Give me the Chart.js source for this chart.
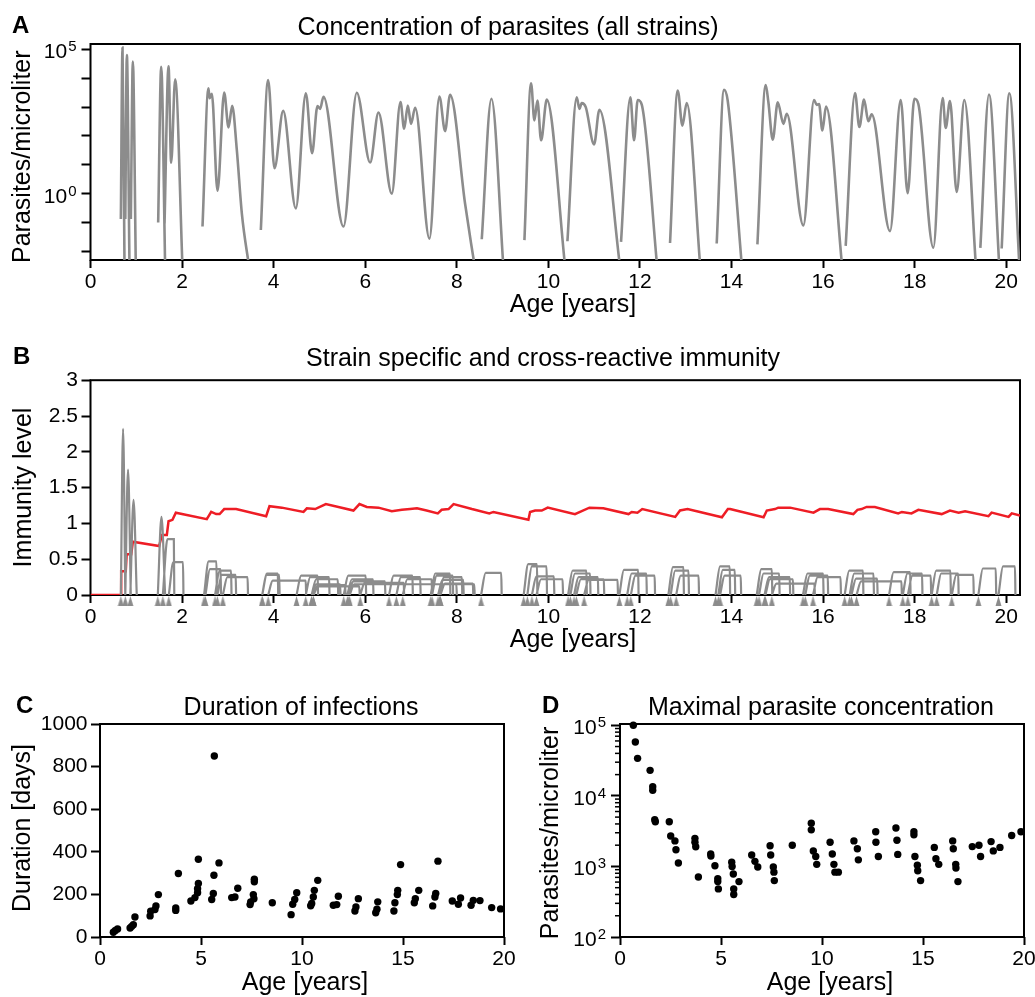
<!DOCTYPE html>
<html>
<head>
<meta charset="utf-8">
<script src="https://cdn.jsdelivr.net/npm/chart.js@4.4.1/dist/chart.umd.min.js"></script>
<style>
html, body { margin: 0; padding: 0; background: #fff; }
#wrap { position: relative; width: 1035px; height: 997px; }
#wrap canvas { position: absolute; left: 0; top: 0; }
</style>
</head>
<body>
<div id="wrap">
  <canvas id="cA" width="1035" height="997"></canvas>
  <canvas id="cB" width="1035" height="997"></canvas>
  <canvas id="cC" width="1035" height="997"></canvas>
  <canvas id="cD" width="1035" height="997"></canvas>
</div>
<script>
// --- A: total parasite concentration, log10 values, null = line break ---
const ageA = [
  0.663, 0.699, 0.743, null,
  0.76, 0.794, 0.852, null,
  0.881, 0.925, 0.99, null,
  1.478, 1.544, 1.631, null,
  1.617, 1.704, 1.762, 1.849, 2.01, null,
  2.446, 2.577, 2.599, 2.65, 2.774, 2.92, 3.014, 3.094, 3.196, 3.305, 3.47, null,
  3.72, 3.88, 4.018, 4.208, 4.484, 4.703, 4.84, 4.957, 5.015, 5.088, 5.525, 5.816, 6.107, 6.289, 6.58, 6.77,
  6.85, 6.93, 7.0, 7.09, 7.402, 7.62, 7.744, 7.853, 8.181, 8.312, 8.40, null,
  8.545, 8.756, 9.02, null,
  9.477, 9.622, 9.695, 9.761, 9.841, 9.965, 10.37, null,
  10.416, 10.619, 10.678, 10.728, 10.816, 10.998, 11.114, 11.57, null,
  11.587, 11.791, 11.871, 11.951, 12.039, 12.38, null,
  12.657, 12.825, 12.927, 13.021, 13.32, null,
  13.676, 13.836, 13.916, 14.23, null,
  14.565, 14.747, 14.805, 14.9, 15.009, 15.133, 15.205, 15.569, 15.802, 15.86, 15.911, 15.984, 16.064, 16.42, null,
  16.493, 16.697, 16.792, 16.894, 16.988, 17.061, 17.461, 17.694, 17.847, 17.993, 18.08, 18.408, 18.611, 18.677,
  18.771, 18.917, 19.084, 19.34, null,
  19.434, 19.623, 19.85, null,
  19.9, 20.067, 20.29
];
const logConcA = [
  -0.88, 5.07, -2.6, null,
  -0.88, 4.81, -2.6, null,
  -0.88, 4.58, -2.6, null,
  -1.0, 4.40, -2.6, null,
  -1.03, 4.42, 1.07, 3.97, -2.6, null,
  -1.14, 3.65, 3.31, 3.46, 0.1, 3.51, 2.30, 3.05, 1.51, -0.68, -2.6, null,
  -1.26, 3.94, 0.88, 2.87, -0.51, 3.48, 1.40, 3.04, 2.94, 3.36, -1.14, 3.5, 1.08, 2.81, 0.0, 3.18,
  2.25, 3.06, 2.42, 2.98, -1.56, 3.37, 2.17, 3.43, -0.35, -1.73, -2.6, null,
  -1.58, 3.29, -2.6, null,
  -1.61, 3.83, 2.54, 3.23, 1.85, 3.26, -2.6, null,
  -1.65, 3.34, 2.94, 3.14, 3.0, 1.71, 2.91, -2.6, null,
  -1.67, 3.34, 1.85, 3.25, 3.09, -2.6, null,
  -1.71, 3.58, 2.36, 3.14, -2.6, null,
  -1.73, 3.60, 3.23, -2.6, null,
  -1.76, 3.77, 3.17, 1.87, 3.17, 2.42, 2.77, -1.10, 3.25, 3.08, 3.11, 2.19, 3.02, -2.6, null,
  -1.81, 3.49, 2.31, 3.26, 2.51, 2.75, -1.30, 3.25, 0.02, 3.29, 3.11, -1.87, 3.32, 2.28,
  3.21, 0.06, 3.25, -2.6, null,
  -1.88, 3.44, -2.6, null,
  -1.90, 3.48, -2.6
];

// --- B: strain specific immunity (start age, end age, plateau level) ---
const strainStart = [0.663, 0.76, 0.87, 1.47, 1.58, 1.71,
  2.48, 2.51, 2.72, 2.77, 2.89, 3.75, 3.75, 3.88,
  4.50, 4.70, 4.83, 4.83, 4.87, 4.87, 5.53, 5.61, 5.64, 5.66, 5.89,
  6.52, 6.68, 6.82, 7.43, 7.46, 7.59, 7.62, 7.64, 7.64, 8.53,
  9.46, 9.54, 9.64, 9.74, 10.43, 10.48, 10.56, 10.61, 10.78,
  11.55, 11.72, 11.80, 12.62, 12.67, 12.79, 13.65, 13.71, 13.75,
  14.55, 14.60, 14.72, 14.74, 14.88, 15.56, 15.61, 15.78,
  16.47, 16.58, 16.62, 16.73, 17.44, 17.74, 17.85, 18.37, 18.48, 18.81, 19.39, 19.83];
const strainEnd = [0.76, 0.88, 1.01, 1.63, 1.82, 2.02,
  2.75, 2.84, 3.07, 3.17, 3.43, 4.09, 4.12, 4.70,
  4.96, 5.21, 5.40, 5.45, 5.56, 5.87, 6.01, 6.17, 6.43, 7.99, 6.84,
  7.03, 7.20, 7.45, 7.85, 7.91, 8.14, 8.11, 8.35, 8.38, 8.97,
  9.75, 9.96, 10.12, 10.31, 10.83, 10.91, 11.08, 11.21, 11.51,
  11.96, 12.14, 12.32, 12.95, 13.06, 13.28, 13.96, 14.07, 14.20,
  14.88, 15.04, 15.27, 15.34, 15.81, 16.00, 16.10, 16.38,
  16.87, 17.10, 17.18, 17.71, 17.90, 18.16, 18.35, 18.78, 18.95, 19.28, 19.77, 20.19];
const strainLevel = [2.32, 1.75, 1.33, 1.09, 0.78, 0.46,
  0.47, 0.36, 0.34, 0.28, 0.25, 0.30, 0.28, 0.20,
  0.27, 0.25, 0.22, 0.15, 0.14, 0.12, 0.27, 0.22, 0.19, 0.15, 0.17,
  0.27, 0.25, 0.22, 0.30, 0.27, 0.21, 0.25, 0.16, 0.15, 0.31,
  0.43, 0.40, 0.26, 0.22, 0.34, 0.30, 0.25, 0.22, 0.21,
  0.35, 0.30, 0.27, 0.39, 0.34, 0.27, 0.40, 0.35, 0.27,
  0.36, 0.30, 0.25, 0.22, 0.16, 0.30, 0.27, 0.25,
  0.34, 0.30, 0.23, 0.19, 0.32, 0.30, 0.27, 0.34, 0.30, 0.28, 0.37, 0.40];

// cross-reactive immunity (red)
const ageRed = [0, 0.67, 0.67, 0.77, 0.79, 0.89, 0.925, 1.50, 1.558, 1.667, 1.704, 1.79, 1.864,
  2.54, 2.636, 2.745, 2.82, 2.92, 3.18, 3.836, 3.909, 4.178, 4.652, 4.725, 4.907, 5.14,
  5.743, 5.874, 6.034, 6.289, 6.58, 6.80, 6.98, 7.13, 7.34, 7.585, 7.67, 7.82, 7.93,
  8.33, 8.71, 8.80, 9.564, 9.60, 9.71, 9.855, 9.986, 10.58, 10.896, 11.2, 11.75, 11.82,
  11.945, 12.05, 12.77, 12.875, 13.04, 13.79, 13.92, 13.97, 14.7, 14.77, 14.95, 15.02,
  15.28, 15.79, 15.93, 16.11, 16.66, 16.75, 16.84, 16.95, 17.13, 17.64, 17.72, 17.93,
  18.08, 18.59, 18.77, 18.96, 19.10, 19.61, 19.68, 20.05, 20.12, 20.30];
const levelRed = [0, 0, 0.33, 0.33, 0.57, 0.57, 0.745, 0.684, 0.838, 0.838, 1.03, 1.05, 1.15,
  1.06, 1.16, 1.13, 1.13, 1.2, 1.2, 1.10, 1.24, 1.22, 1.16, 1.21, 1.2, 1.27,
  1.18, 1.27, 1.23, 1.22, 1.17, 1.19, 1.2, 1.21, 1.18, 1.14, 1.19, 1.2, 1.27,
  1.2, 1.14, 1.16, 1.05, 1.16, 1.18, 1.18, 1.22, 1.13, 1.22, 1.21, 1.13, 1.16,
  1.15, 1.2, 1.09, 1.18, 1.2, 1.085, 1.2, 1.2, 1.085, 1.18, 1.2, 1.22,
  1.22, 1.15, 1.2, 1.2, 1.13, 1.19, 1.2, 1.23, 1.23, 1.14, 1.16, 1.14,
  1.19, 1.13, 1.18, 1.15, 1.17, 1.10, 1.15, 1.09, 1.14, 1.11];

// --- C: duration of infections ---
const ageC = [0.66, 0.76, 0.87, 1.49, 1.57, 1.65, 1.73, 2.48, 2.51, 2.72, 2.77, 2.89,
  3.75, 3.75, 3.88, 4.50, 4.70, 4.83, 4.83, 4.87, 4.87, 5.53, 5.61, 5.64, 5.66, 5.89,
  6.52, 6.68, 6.82, 7.43, 7.46, 7.59, 7.62, 7.64, 7.64, 8.53, 9.46, 9.54, 9.64, 9.74,
  10.43, 10.48, 10.56, 10.61, 10.78, 11.55, 11.72, 11.80, 12.62, 12.67, 12.79,
  13.65, 13.71, 13.75, 14.55, 14.60, 14.72, 14.74, 14.88, 15.56, 15.61, 15.78,
  16.47, 16.58, 16.62, 16.73, 17.44, 17.74, 17.85, 18.37, 18.48, 18.81, 19.39, 19.83];
const durationC = [22, 31, 38, 42, 50, 58, 94, 99, 121, 129, 146, 199,
  125, 136, 298, 169, 185, 208, 227, 251, 365, 176, 204, 290, 850, 348,
  185, 188, 229, 152, 165, 199, 180, 259, 271, 161, 105, 154, 176, 208,
  147, 157, 188, 219, 266, 149, 152, 191, 122, 141, 180,
  114, 130, 165, 122, 161, 199, 219, 340, 161, 180, 219,
  146, 188, 204, 356, 169, 154, 183, 149, 172, 171, 138, 132];

// --- D: maximal parasite concentration ---
const ageD = [0.66, 0.76, 0.87, 1.49, 1.62, 1.62, 1.72, 1.75, 2.44, 2.51, 2.72, 2.77, 2.89,
  3.71, 3.71, 3.75, 3.88, 4.49, 4.50, 4.70, 4.84, 4.84, 4.87, 5.53, 5.55, 5.61, 5.63, 5.63, 5.89,
  6.52, 6.68, 6.82, 7.43, 7.46, 7.59, 7.62, 7.64, 8.53, 9.47, 9.47, 9.57, 9.69, 9.74,
  10.40, 10.51, 10.59, 10.64, 10.81, 11.58, 11.75, 11.80, 12.66, 12.67, 12.79,
  13.66, 13.71, 13.75, 14.55, 14.55, 14.60, 14.72, 14.74, 14.88, 15.56, 15.64, 15.78,
  16.47, 16.50, 16.62, 16.63, 16.73, 17.44, 17.77, 17.85, 18.37, 18.48, 18.81, 19.39, 19.85];
const maxConcD = [1.0e5, 5.8e4, 3.4e4, 2.3e4, 1.35e4, 1.2e4, 4.6e3, 4.3e3, 4.3e3, 2.7e3, 2.3e3, 1.72e3, 1.12e3,
  2.5e3, 2.2e3, 1.9e3, 710, 1.5e3, 1.4e3, 1.02e3, 670, 610, 480, 1.15e3, 1.0e3, 780, 480, 400, 610,
  1.45e3, 1.18e3, 980, 1.96e3, 1.45e3, 980, 830, 630, 2.0e3, 4.1e3, 3.3e3, 1.66e3, 1.38e3, 1.07e3,
  2.2e3, 1.5e3, 1.07e3, 830, 830, 2.3e3, 1.78e3, 1.24e3, 3.1e3, 2.2e3, 1.38e3,
  3.5e3, 2.35e3, 1.48e3, 3.1e3, 2.8e3, 1.38e3, 1.04e3, 870, 630, 1.86e3, 1.29e3, 1.07e3,
  2.3e3, 1.78e3, 1.07e3, 950, 610, 1.91e3, 2.0e3, 1.38e3, 2.25e3, 1.66e3, 1.86e3, 2.75e3, 3.1e3];

const FONT = '"Liberation Sans", Arial, Helvetica, sans-serif';
const GRAY = '#8c8c8c';
const RED = '#ee1d25';
const TRI_Y = -0.084;   // triangle markers sit just under the B axis

Chart.defaults.font.family = FONT;
Chart.defaults.font.size = 21;
Chart.defaults.color = '#000';

// frame, 10^n labels, minor ticks and all free text
const panelPlugin = {
  id: 'panel',
  beforeDatasetsDraw(chart) {
    const ctx = chart.ctx, a = chart.chartArea;
    ctx.save();
    ctx.strokeStyle = '#000';
    ctx.lineWidth = 2;
    ctx.strokeRect(a.left, a.top, a.right - a.left, a.bottom - a.top);
    ctx.restore();
  },
  afterDraw(chart, args, opts) {
    const ctx = chart.ctx, a = chart.chartArea;
    ctx.save();
    ctx.strokeStyle = '#000';
    if (opts.minor) {
      const s = chart.scales.y;
      ctx.lineWidth = 1.5;
      opts.minor.forEach(v => {
        const y = s.getPixelForValue(v);
        ctx.beginPath(); ctx.moveTo(a.left - 5, y); ctx.lineTo(a.left, y); ctx.stroke();
      });
    }
    ctx.fillStyle = '#000';
    if (opts.powers) {
      const s = chart.scales.y;
      ctx.textAlign = 'right';
      ctx.textBaseline = 'alphabetic';
      opts.powers.forEach(e => {
        const y = s.getPixelForValue(Math.pow(10, e));
        const xr = a.left - 14;
        ctx.font = '15px ' + FONT;
        const ew = ctx.measureText(String(e)).width;
        ctx.fillText(String(e), xr, y + 2);
        ctx.font = '21px ' + FONT;
        ctx.fillText('10', xr - ew - 1, y + 9);
      });
    }
    (opts.texts || []).forEach(t => {
      ctx.save();
      ctx.font = t.font || ('25px ' + FONT);
      ctx.textAlign = t.align || 'center';
      ctx.textBaseline = 'alphabetic';
      ctx.translate(t.x, t.y);
      if (t.rot) ctx.rotate(-Math.PI / 2);
      ctx.fillText(t.text, 0, 0);
      ctx.restore();
    });
    ctx.restore();
  }
};

function gridOpts(len) {
  return { display: true, drawOnChartArea: false, drawTicks: true, tickLength: len, tickWidth: 2, tickColor: '#000' };
}

function xAxis(max, step, pad) {
  return {
    type: 'linear', min: 0, max: max,
    grid: gridOpts(8),
    border: { display: false },
    ticks: { stepSize: step, includeBounds: false, autoSkip: false, maxRotation: 0, color: '#000',
      font: { family: FONT, size: 21 }, padding: pad },
    afterFit: s => { s.height = 40; s.paddingLeft = 0; s.paddingRight = 0; }
  };
}

function yLinear(min, max, step) {
  return {
    type: 'linear', min: min, max: max,
    grid: gridOpts(9),
    border: { display: false },
    ticks: { stepSize: step, autoSkip: false, color: '#000', font: { family: FONT, size: 21 }, padding: 3.5,
      callback: v => String(v) },
    afterFit: s => { s.width = 90; s.paddingTop = 0; s.paddingBottom = 0; }
  };
}

function yLog(min, max, exps) {
  return {
    type: 'logarithmic', min: min, max: max,
    grid: gridOpts(9),
    border: { display: false },
    ticks: { autoSkip: false, callback: () => '' },
    afterBuildTicks: s => { s.ticks = exps.map(e => ({ value: Math.pow(10, e) })); },
    afterFit: s => { s.width = 90; s.paddingTop = 0; s.paddingBottom = 0; }
  };
}

function baseOptions(padding, panel, scales) {
  return {
    responsive: false, animation: false, events: [],
    layout: { padding: padding },
    plugins: { legend: { display: false }, tooltip: { enabled: false }, panel: panel },
    scales: scales
  };
}

// points for panel A
const pointsA = ageA.map((x, i) => x === null
  ? { x: ageA[i - 1], y: null }
  : { x: x, y: Math.pow(10, logConcA[i]) });

// outline of each strain curve in B
const strainPts = [];
strainStart.forEach((s, i) => {
  const e = strainEnd[i], L = strainLevel[i];
  if (e - s < 0.2) {
    strainPts.push({ x: s, y: 0 }, { x: (s + e) / 2, y: L }, { x: e, y: 0 });
  } else {
    strainPts.push({ x: s, y: 0 }, { x: s + 0.1, y: L }, { x: e, y: L }, { x: e + 0.01, y: 0 });
  }
  strainPts.push({ x: e, y: null });
});

const tri = document.createElement('canvas');
tri.width = 7; tri.height = 10;
const tc = tri.getContext('2d');
tc.fillStyle = GRAY;
tc.beginPath(); tc.moveTo(3.5, 0); tc.lineTo(6.5, 10); tc.lineTo(0.5, 10); tc.closePath(); tc.fill();

// A
new Chart(document.getElementById('cA'), {
  type: 'line',
  data: { datasets: [{ data: pointsA, borderColor: GRAY, borderWidth: 2.6, pointRadius: 0,
    cubicInterpolationMode: 'monotone', spanGaps: false }] },
  options: baseOptions({ left: 0.5, right: 15, top: 44, bottom: 697 }, {
    powers: [0, 5],
    texts: [
      { text: 'A', x: 12, y: 33, font: 'bold 24px ' + FONT, align: 'left' },
      { text: 'Concentration of parasites (all strains)', x: 508, y: 34.5 },
      { text: 'Parasites/microliter', x: 29.5, y: 156.7, rot: true },
      { text: 'Age [years]', x: 573, y: 312 }
    ]
  }, {
    x: xAxis(20.3, 2, 1.5),
    y: yLog(Math.pow(10, -2.3), Math.pow(10, 5.19), [-2, -1, 0, 1, 2, 3, 4, 5])
  }),
  plugins: [panelPlugin]
});

// B
new Chart(document.getElementById('cB'), {
  type: 'line',
  data: { datasets: [
    { data: strainPts, borderColor: GRAY, borderWidth: 2.2, pointRadius: 0,
      cubicInterpolationMode: 'monotone', spanGaps: false },
    { data: strainStart.map(s => ({ x: s, y: TRI_Y })), showLine: false, pointStyle: tri,
      pointRadius: 12, clip: false },
    { data: ageRed.map((x, i) => ({ x: x, y: levelRed[i] })), borderColor: RED, borderWidth: 2.5,
      pointRadius: 0, tension: 0 }
  ] },
  options: baseOptions({ left: 0.5, right: 15, top: 380.2, bottom: 362 }, {
    texts: [
      { text: 'B', x: 13, y: 364, font: 'bold 24px ' + FONT, align: 'left' },
      { text: 'Strain specific and cross-reactive immunity', x: 543, y: 366 },
      { text: 'Immunity level', x: 31, y: 487.5, rot: true },
      { text: 'Age [years]', x: 573, y: 647 }
    ]
  }, {
    x: xAxis(20.3, 2, 1.5),
    y: yLinear(0, 3, 0.5)
  }),
  plugins: [panelPlugin]
});

// C
new Chart(document.getElementById('cC'), {
  type: 'scatter',
  data: { datasets: [{ data: ageC.map((x, i) => ({ x: x, y: durationC[i] })),
    backgroundColor: '#000', borderWidth: 0, pointRadius: 3.7, clip: false }] },
  options: baseOptions({ left: 10, right: 531, top: 724, bottom: 20 }, {
    texts: [
      { text: 'C', x: 16, y: 713, font: 'bold 24px ' + FONT, align: 'left' },
      { text: 'Duration of infections', x: 301, y: 714.6 },
      { text: 'Duration [days]', x: 30, y: 828, rot: true },
      { text: 'Age [years]', x: 305, y: 989.7 }
    ]
  }, {
    x: xAxis(20, 5, 1.5),
    y: yLinear(0, 1000, 200)
  }),
  plugins: [panelPlugin]
});

// D
const minorD = [];
[100, 1000, 10000].forEach(d => { for (let k = 2; k <= 9; k++) minorD.push(k * d); });
new Chart(document.getElementById('cD'), {
  type: 'scatter',
  data: { datasets: [{ data: ageD.map((x, i) => ({ x: x, y: maxConcD[i] })),
    backgroundColor: '#000', borderWidth: 0, pointRadius: 3.7, clip: false }] },
  options: baseOptions({ left: 530, right: 11, top: 724, bottom: 20 }, {
    powers: [2, 3, 4, 5],
    minor: minorD,
    texts: [
      { text: 'D', x: 542, y: 713, font: 'bold 24px ' + FONT, align: 'left' },
      { text: 'Maximal parasite concentration', x: 821, y: 714.6 },
      { text: 'Parasites/microliter', x: 558, y: 833, rot: true },
      { text: 'Age [years]', x: 830, y: 990 }
    ]
  }, {
    x: xAxis(20, 5, 1.5),
    y: yLog(100, 1.043e5, [2, 3, 4, 5])
  }),
  plugins: [panelPlugin]
});
</script>
</body>
</html>
